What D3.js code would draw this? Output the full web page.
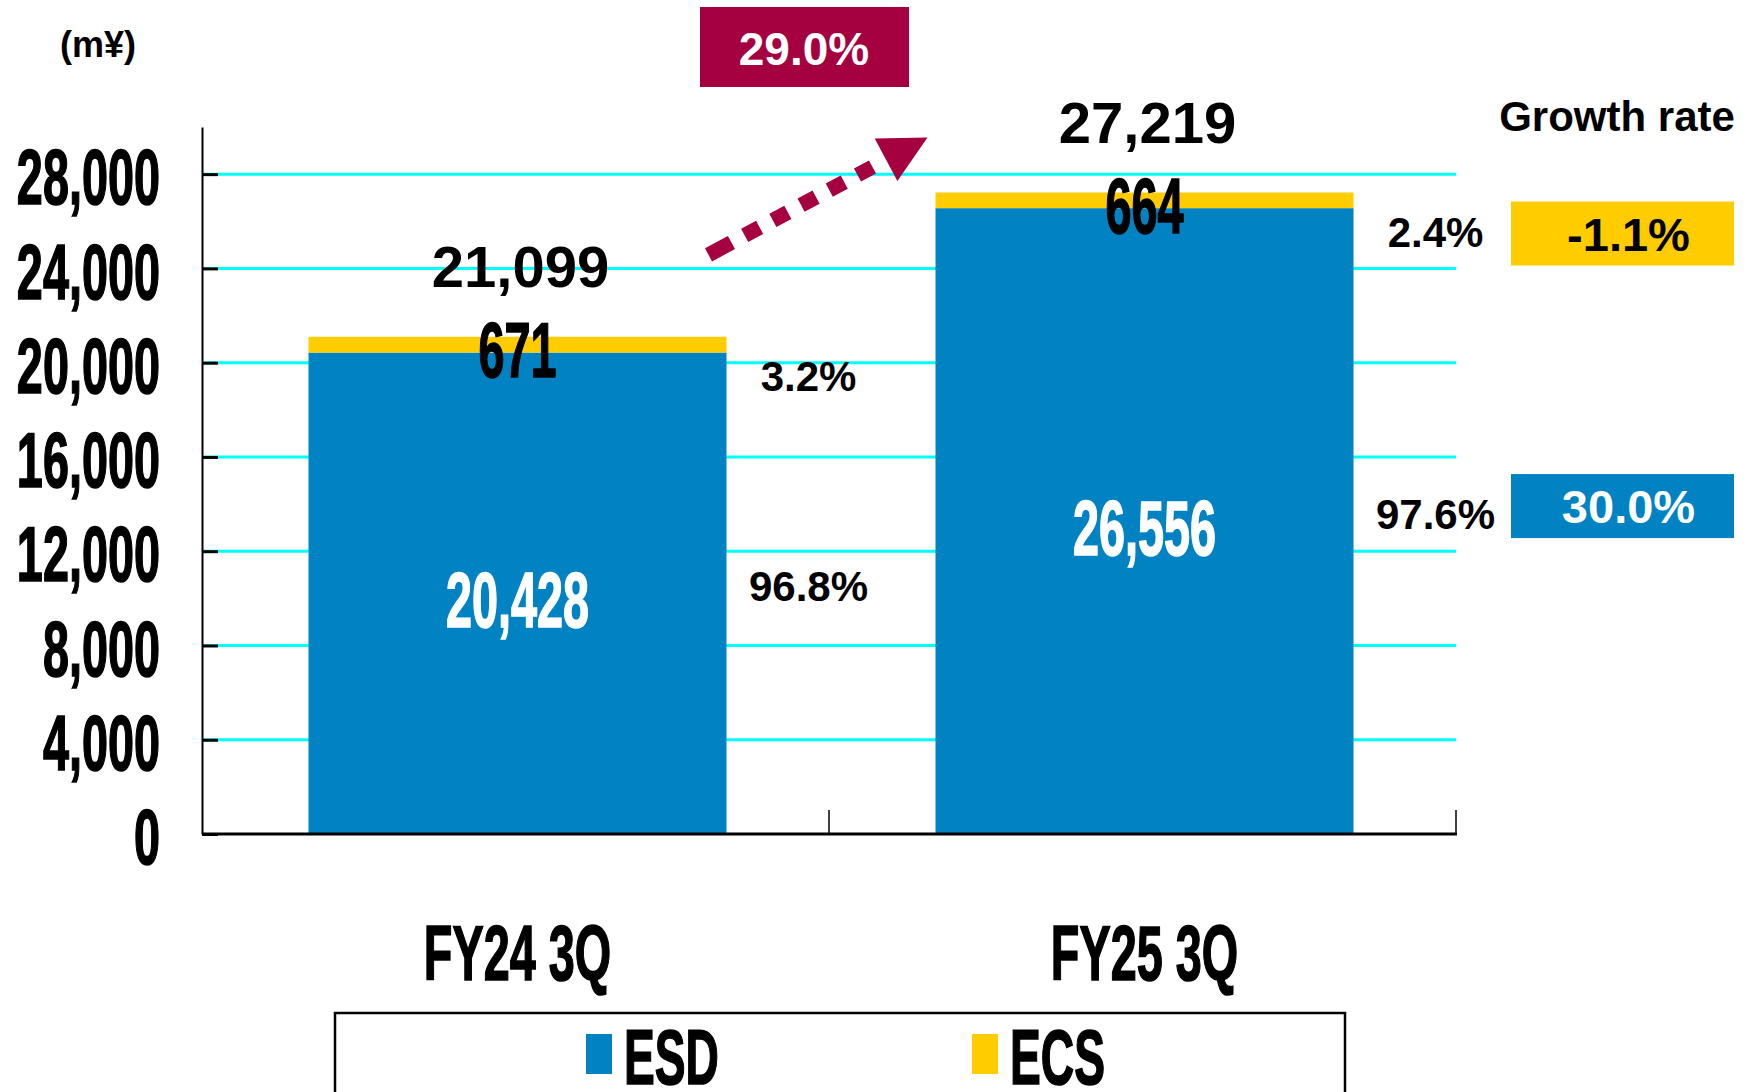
<!DOCTYPE html>
<html>
<head>
<meta charset="utf-8">
<script src="https://cdn.jsdelivr.net/npm/d3@7"></script>
<style>
  body { margin: 0; background: #fff; }
  svg { display: block; font-family: 'Liberation Sans', Arial, sans-serif; }
</style>
</head>
<body>
<script>
// Data
const categories = ['FY24 3Q', 'FY25 3Q'];
const esd = [20428, 26556];
const ecs = [671, 664];
const totals = [21099, 27219];
const esdShare = ['96.8%', '97.6%'];
const ecsShare = ['3.2%', '2.4%'];
const growthLabels = ['30.0%', '-1.1%']; // ESD, ECS
const totalGrowth = '29.0%';
const yTicks = [0, 4000, 8000, 12000, 16000, 20000, 24000, 28000];
const seriesNames = ['ESD', 'ECS'];

const BLUE = '#0082c3';
const YELLOW = '#ffcc00';
const CRIMSON = '#a50040';
const CYAN = '#00ffff';

const width = 1753;
const height = 1092;
const svg = d3
  .select('body')
  .append('svg')
  .attr('width', width)
  .attr('height', height);

// Scales
const y = d3.scaleLinear().domain([0, 30000]).range([834, 127]);
const x = d3
  .scaleBand()
  .domain(categories)
  .range([204, 1458])
  .paddingInner(1 / 3)
  .paddingOuter(1 / 6);
const cx = (c) => x(c) + x.bandwidth() / 2;

// condensed bold text (the original uses a very narrow face)
const condensed = (g, text, tx, ty, size, fill, anchor = 'middle') =>
  g
    .append('text')
    .attr('transform', `translate(${tx},${ty}) scale(0.6,1)`)
    .attr('text-anchor', anchor)
    .attr('font-size', size)
    .attr('font-weight', 'bold')
    .attr('fill', fill)
    .attr('stroke', fill)
    .attr('stroke-width', 1.6)
    .text(text);

const plain = (g, text, tx, ty, size, fill, anchor = 'middle') =>
  g
    .append('text')
    .attr('x', tx)
    .attr('y', ty)
    .attr('text-anchor', anchor)
    .attr('font-size', size)
    .attr('font-weight', 'bold')
    .attr('fill', fill)
    .text(text);

// Gridlines
svg
  .append('g')
  .selectAll('line')
  .data(yTicks.filter((d) => d > 0))
  .enter()
  .append('line')
  .attr('x1', 202)
  .attr('x2', 1456)
  .attr('y1', (d) => y(d))
  .attr('y2', (d) => y(d))
  .attr('stroke', CYAN)
  .attr('stroke-width', 3);

// Stacked bars
const bars = svg.append('g');
bars
  .selectAll('.esd')
  .data(categories)
  .enter()
  .append('rect')
  .attr('x', (d) => x(d))
  .attr('width', x.bandwidth())
  .attr('y', (d, i) => y(esd[i]))
  .attr('height', (d, i) => y(0) - y(esd[i]))
  .attr('fill', BLUE);
bars
  .selectAll('.ecs')
  .data(categories)
  .enter()
  .append('rect')
  .attr('x', (d) => x(d))
  .attr('width', x.bandwidth())
  .attr('y', (d, i) => y(esd[i] + ecs[i]))
  .attr('height', (d, i) => y(esd[i]) - y(esd[i] + ecs[i]))
  .attr('fill', YELLOW);

// Y axis
const yAxis = d3
  .axisLeft(y)
  .tickValues(yTicks)
  .tickSizeInner(-16)
  .tickSizeOuter(0)
  .tickPadding(42)
  .tickFormat(d3.format(','));
const yg = svg.append('g').attr('transform', 'translate(202,0)').call(yAxis);
yg.select('.domain').attr('stroke', '#000').attr('stroke-width', 2);
yg.selectAll('.tick line').attr('stroke', '#000').attr('stroke-width', 3);
yg.selectAll('.tick text')
  .attr('x', -42 / 0.6)
  .attr('dy', '0.38em')
  .attr('transform', 'scale(0.6,1)')
  .attr('font-size', 78)
  .attr('font-weight', 'bold')
  .attr('font-family', "'Liberation Sans', Arial, sans-serif")
  .attr('fill', '#000')
  .attr('stroke', '#000')
  .attr('stroke-width', 1.6);

// X axis
svg
  .append('line')
  .attr('x1', 202)
  .attr('x2', 1457)
  .attr('y1', y(0))
  .attr('y2', y(0))
  .attr('stroke', '#000')
  .attr('stroke-width', 3);
const gap = (x.step() - x.bandwidth()) / 2;
svg
  .append('g')
  .selectAll('line')
  .data(categories)
  .enter()
  .append('line')
  .attr('x1', (d) => x(d) + x.bandwidth() + gap - 2)
  .attr('x2', (d) => x(d) + x.bandwidth() + gap - 2)
  .attr('y1', y(0) - 24)
  .attr('y2', y(0))
  .attr('stroke', '#000')
  .attr('stroke-width', 1.5);

const labels = svg.append('g');
categories.forEach((c, i) => {
  condensed(labels, c, cx(c), 980, 78, '#000');
  // totals
  plain(labels, d3.format(',')(totals[i]), cx(c) + 3, y(totals[i]) - 50, 58, '#000');
  // ECS value
  condensed(labels, d3.format(',')(ecs[i]), cx(c), y(esd[i] + ecs[i]) + 40, 78, '#000');
  // ESD value
  condensed(labels, d3.format(',')(esd[i]), cx(c), (y(esd[i]) + y(0)) / 2 + 34, 78, '#fff');
  // shares
  const sx = x(c) + x.bandwidth() + 82;
  plain(labels, ecsShare[i], sx, y(esd[i] + ecs[i]) + 54, 42, '#000');
  plain(labels, esdShare[i], sx, (y(esd[i]) + y(0)) / 2 + 8, 42, '#000');
});

// unit
plain(svg, '(m¥)', 98, 57, 36, '#000');

// Growth rate column
const gx = 1511;
const gw = 223;
plain(svg, 'Growth rate', 1617, 131, 42, '#000');
const last = categories.length - 1;
const lastC = categories[last];
const growthRows = [
  { label: growthLabels[0], fill: BLUE, text: '#fff', cy: (y(esd[last]) + y(0)) / 2 - 15 },
  { label: growthLabels[1], fill: YELLOW, text: '#000', cy: y(esd[last] + ecs[last]) + 41 },
];
growthRows.forEach((r) => {
  svg
    .append('rect')
    .attr('x', gx)
    .attr('y', r.cy - 32)
    .attr('width', gw)
    .attr('height', 64)
    .attr('fill', r.fill);
  plain(svg, r.label, gx + gw / 2 + 6, r.cy + 17, 47, r.text);
});

// Total growth box
svg
  .append('rect')
  .attr('x', 700)
  .attr('y', 7)
  .attr('width', 209)
  .attr('height', 80)
  .attr('fill', CRIMSON);
plain(svg, totalGrowth, 804, 65, 46, '#fff');

// Dashed arrow between totals
const start = [x(categories[0]) + x.bandwidth() - 18, y(totals[0]) - 82];
const tip = [x(lastC) - 8, y(totals[last]) - 55];
const dx = tip[0] - start[0];
const dy = tip[1] - start[1];
const len = Math.hypot(dx, dy);
const u = [dx / len, dy / len];
const p = [-u[1], u[0]];
const headLen = 47;
const headHalf = 24;
const base = [tip[0] - u[0] * headLen, tip[1] - u[1] * headLen];
const dashEnd = len - headLen - 14;
svg
  .append('line')
  .attr('x1', start[0])
  .attr('y1', start[1])
  .attr('x2', start[0] + u[0] * dashEnd)
  .attr('y2', start[1] + u[1] * dashEnd)
  .attr('stroke', CRIMSON)
  .attr('stroke-width', 15)
  .attr('stroke-dasharray', '26,15,17,15,17,15,17,15,17,15,17,15');
svg
  .append('path')
  .attr(
    'd',
    `M${tip[0]},${tip[1]}L${base[0] + p[0] * headHalf},${base[1] + p[1] * headHalf}` +
      `L${base[0] - p[0] * headHalf},${base[1] - p[1] * headHalf}Z`
  )
  .attr('fill', CRIMSON);

// Legend
const legend = svg.append('g');
legend
  .append('rect')
  .attr('x', 335)
  .attr('y', 1013)
  .attr('width', 1010)
  .attr('height', 130)
  .attr('fill', '#fff')
  .attr('stroke', '#000')
  .attr('stroke-width', 2.5);
const legendX = [586, 972];
const legendColors = [BLUE, YELLOW];
seriesNames.forEach((s, i) => {
  legend
    .append('rect')
    .attr('x', legendX[i])
    .attr('y', 1034)
    .attr('width', 26)
    .attr('height', 40)
    .attr('fill', legendColors[i]);
  condensed(legend, s, legendX[i] + 38, 1084, 77, '#000', 'start');
});
</script>
</body>
</html>
